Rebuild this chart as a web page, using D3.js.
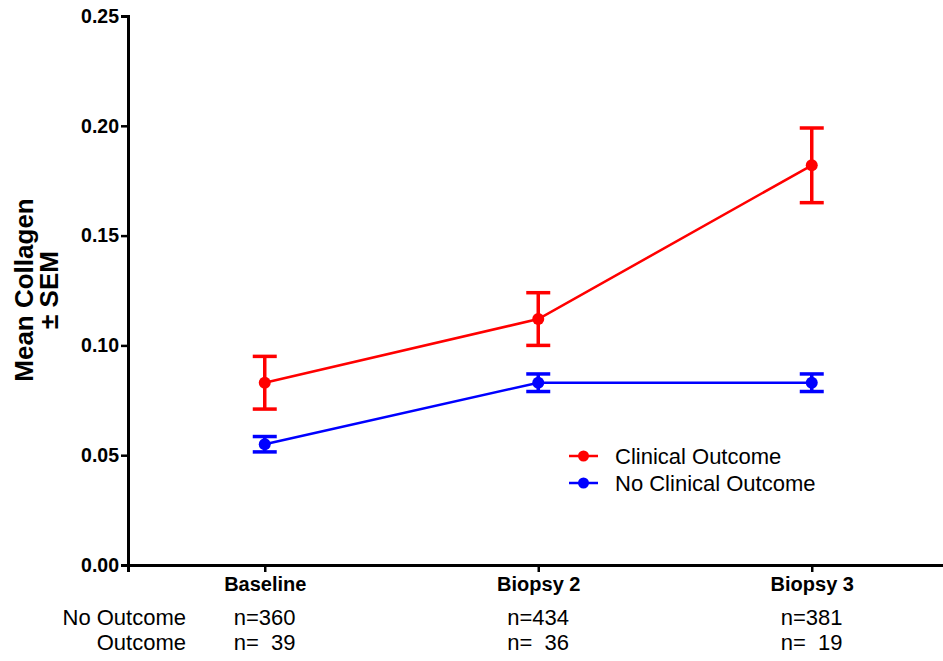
<!DOCTYPE html>
<html>
<head>
<meta charset="utf-8">
<script src="https://cdn.jsdelivr.net/npm/d3@7"></script>
<style>
  body { margin: 0; background: #fff; }
  svg { font-family: "Liberation Sans", Arial, sans-serif; }
  .ntext { white-space: pre; }
</style>
</head>
<body>
<div id="chart"></div>
<script>
const categories = ["Baseline", "Biopsy 2", "Biopsy 3"];
const clinicalMean = [0.083, 0.112, 0.182];
const clinicalSem = [0.012, 0.012, 0.017];
const noClinicalMean = [0.055, 0.083, 0.083];
const noClinicalSem = [0.0035, 0.004, 0.004];
const nNoOutcome = ["n=360", "n=434", "n=381"];
const nOutcome = ["n=  39", "n=  36", "n=  19"];
const yTicks = [0, 0.05, 0.10, 0.15, 0.20, 0.25];

const width = 943, height = 661;
const margin = {top: 16, left: 128, bottom: 96};
const font = '"Liberation Sans", Arial, sans-serif';

const svg = d3.select('#chart').append('svg')
  .attr('width', width)
  .attr('height', height);

const x = d3.scaleLinear()
  .domain([-0.5, 2.5])
  .range([margin.left, margin.left + 273.5 * 3]);

const y = d3.scaleLinear()
  .domain([0, 0.25])
  .range([height - margin.bottom, margin.top]);

// y axis
const yAxis = svg.append('g')
  .attr('transform', 'translate(' + margin.left + ',0)')
  .call(d3.axisLeft(y).tickValues(yTicks).tickFormat(d3.format('.2f')).tickSizeOuter(0).tickSize(7).tickPadding(2));
yAxis.select('.domain').attr('stroke-width', 3);
yAxis.selectAll('.tick line').attr('stroke-width', 2.5);
yAxis.selectAll('.tick text')
  .attr('font-size', 19.5).attr('font-weight', 'bold').attr('fill', '#000')
  .attr('font-family', font);

// x axis
const xAxis = svg.append('g')
  .attr('transform', 'translate(0,' + y(0) + ')')
  .call(d3.axisBottom(x).tickValues([0, 1, 2]).tickFormat(i => categories[i]).tickSizeOuter(0).tickSize(7).tickPadding(5));
xAxis.select('.domain').attr('stroke-width', 3);
xAxis.selectAll('.tick line').attr('stroke-width', 2.5);
xAxis.selectAll('.tick text')
  .attr('font-size', 20).attr('font-weight', 'bold').attr('fill', '#000')
  .attr('font-family', font);

// y label
const ylab = svg.append('text')
  .attr('transform', 'translate(33,290) rotate(-90)')
  .attr('text-anchor', 'middle')
  .attr('font-size', 26).attr('font-weight', 'bold');
ylab.append('tspan').attr('x', 0).attr('dy', 0).text('Mean Collagen');
ylab.append('tspan').attr('x', 0).attr('dy', 25).text('± SEM');

// n counts
svg.append('text').attr('x', 186).attr('y', 625).attr('text-anchor', 'end')
  .attr('font-size', 22).text('No Outcome');
svg.append('text').attr('x', 186).attr('y', 650).attr('text-anchor', 'end')
  .attr('font-size', 22).text('Outcome');
svg.selectAll('.n1').data(nNoOutcome).enter().append('text')
  .attr('class', 'ntext')
  .attr('x', (d, i) => x(i) - 31).attr('y', 625)
  .attr('font-size', 22).text(d => d);
svg.selectAll('.n2').data(nOutcome).enter().append('text')
  .attr('class', 'ntext')
  .attr('x', (d, i) => x(i) - 31).attr('y', 650)
  .attr('font-size', 22).text(d => d);

const series = [
  {name: 'Clinical Outcome', color: '#ff0000', mean: clinicalMean, sem: clinicalSem},
  {name: 'No Clinical Outcome', color: '#0000ff', mean: noClinicalMean, sem: noClinicalSem}
];

const line = d3.line().x((d, i) => x(i)).y(d => y(d));

series.forEach(s => {
  const g = svg.append('g');
  g.append('path')
    .attr('d', line(s.mean))
    .attr('fill', 'none')
    .attr('stroke', s.color)
    .attr('stroke-width', 2.5);
  s.mean.forEach((m, i) => {
    const lo = y(m - s.sem[i]), hi = y(m + s.sem[i]);
    g.append('line').attr('x1', x(i)).attr('x2', x(i)).attr('y1', lo).attr('y2', hi)
      .attr('stroke', s.color).attr('stroke-width', 3.5);
    [lo, hi].forEach(v => {
      g.append('line').attr('x1', x(i) - 12).attr('x2', x(i) + 12).attr('y1', v).attr('y2', v)
        .attr('stroke', s.color).attr('stroke-width', 3.5);
    });
    g.append('circle').attr('cx', x(i)).attr('cy', y(m)).attr('r', 6).attr('fill', s.color);
  });
});

// legend
const legend = svg.append('g').attr('transform', 'translate(569,456)');
series.forEach((s, i) => {
  const row = legend.append('g').attr('transform', 'translate(0,' + (i * 27) + ')');
  row.append('line').attr('x1', 0).attr('x2', 29).attr('y1', 0).attr('y2', 0)
    .attr('stroke', s.color).attr('stroke-width', 2.5);
  row.append('circle').attr('cx', 14.5).attr('cy', 0).attr('r', 5.5).attr('fill', s.color);
  row.append('text').attr('x', 46).attr('y', 0).attr('dy', '0.35em')
    .attr('font-size', 22).text(s.name);
});
</script>
</body>
</html>
